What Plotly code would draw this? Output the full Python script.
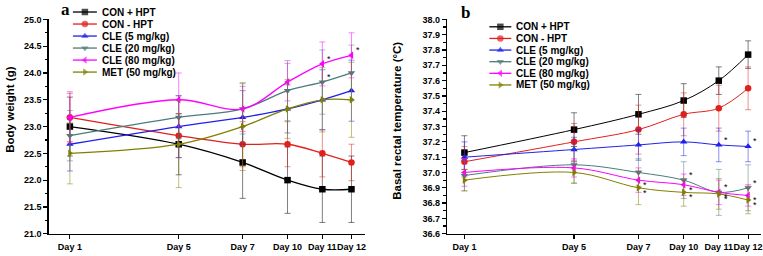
import plotly.graph_objects as go

W, H = 763, 256

# ---------------- data ----------------
days = ["Day 1", "Day 5", "Day 7", "Day 10", "Day 11", "Day 12"]
day_pos = [1, 5, 7.35, 9.0, 10.28, 11.35]   # uneven category positions on the original axis

series = ["CON + HPT", "CON - HPT", "CLE (5 mg/kg)", "CLE (20 mg/kg)", "CLE (80 mg/kg)", "MET (50 mg/kg)"]
colors = ["#000000", "#e0201c", "#2020ee", "#4a7c7c", "#ff00ff", "#808000"]
symbols = ["square", "circle", "triangle-up", "triangle-down", "triangle-left", "triangle-right"]

# Panel a: body weight (g)
bw_con_hpt = [23.00, 22.67, 22.33, 22.00, 21.83, 21.83]
bw_con_nohpt = [23.17, 22.83, 22.67, 22.67, 22.50, 22.33]
bw_cle5 = [22.67, 23.00, 23.17, 23.33, 23.50, 23.67]
bw_cle20 = [22.83, 23.17, 23.33, 23.67, 23.83, 24.00]
bw_cle80 = [23.17, 23.50, 23.33, 23.83, 24.17, 24.33]
bw_met = [22.50, 22.67, 23.00, 23.33, 23.50, 23.50]

bw_err_con_hpt = [0.55, 0.57, 0.67, 0.62, 0.62, 0.62]
bw_err_con_nohpt = [0.45, 0.41, 0.42, 0.42, 0.44, 0.34]
bw_err_cle5 = [0.50, 0.58, 0.50, 0.45, 0.56, 0.57]
bw_err_cle20 = [0.47, 0.40, 0.47, 0.56, 0.60, 0.52]
bw_err_cle80 = [0.48, 0.50, 0.42, 0.35, 0.41, 0.42]
bw_err_met = [0.57, 0.81, 0.82, 0.55, 0.60, 0.70]

# Panel b: basal rectal temperature (°C)
tp_con_hpt = [37.13, 37.28, 37.38, 37.47, 37.60, 37.77]
tp_con_nohpt = [37.07, 37.20, 37.28, 37.38, 37.42, 37.55]
tp_cle5 = [37.10, 37.15, 37.18, 37.20, 37.18, 37.17]
tp_cle20 = [36.98, 37.05, 37.00, 36.95, 36.87, 36.90]
tp_cle80 = [37.00, 37.03, 36.95, 36.92, 36.87, 36.85]
tp_met = [36.95, 37.00, 36.90, 36.87, 36.86, 36.82]

tp_err_con_hpt = [0.11, 0.11, 0.13, 0.11, 0.09, 0.09]
tp_err_con_nohpt = [0.10, 0.12, 0.16, 0.14, 0.15, 0.14]
tp_err_cle5 = [0.10, 0.08, 0.10, 0.09, 0.11, 0.10]
tp_err_cle20 = [0.10, 0.12, 0.09, 0.12, 0.15, 0.15]
tp_err_cle80 = [0.09, 0.06, 0.08, 0.07, 0.08, 0.07]
tp_err_met = [0.07, 0.07, 0.11, 0.09, 0.10, 0.09]

# significance marks: (series index, day index, direction +1 above / -1 below)
sig_a = [(4, 4, 1), (3, 4, 1), (4, 5, 1)]
sig_b = [(4, 2, -1), (5, 2, -1),
         (3, 3, 1), (4, 3, -1), (5, 3, -1),
         (2, 4, 1), (3, 4, 1), (4, 4, -1), (5, 4, -1),
         (2, 5, 1), (3, 5, 1), (4, 5, -1), (5, 5, -1)]

bw_vals = [bw_con_hpt, bw_con_nohpt, bw_cle5, bw_cle20, bw_cle80, bw_met]
bw_errs = [bw_err_con_hpt, bw_err_con_nohpt, bw_err_cle5, bw_err_cle20, bw_err_cle80, bw_err_met]
tp_vals = [tp_con_hpt, tp_con_nohpt, tp_cle5, tp_cle20, tp_cle80, tp_met]
tp_errs = [tp_err_con_hpt, tp_err_con_nohpt, tp_err_cle5, tp_err_cle20, tp_err_cle80, tp_err_met]

# ---------------- helpers ----------------
def rgba(hex_color, a):
    h = hex_color.lstrip("#")
    r, g, b = int(h[0:2], 16), int(h[2:4], 16), int(h[4:6], 16)
    return f"rgba({r},{g},{b},{a})"

FONT = "Arial, Liberation Sans, sans-serif"

fig = go.Figure()

def add_panel(vals, errs, xa, ya, lw):
    for i, name in enumerate(series):
        fig.add_trace(go.Scatter(
            x=day_pos, y=vals[i], name=name, xaxis=xa, yaxis=ya,
            mode="lines+markers",
            line=dict(color=colors[i], width=lw, shape="spline", smoothing=1.0),
            marker=dict(symbol=symbols[i], size=6.5, color=colors[i],
                        line=dict(width=0)),
            error_y=dict(type="data", array=errs[i], visible=True,
                         color=rgba(colors[i], 0.5), thickness=1, width=3),
            showlegend=False, cliponaxis=False,
        ))

add_panel(bw_vals, bw_errs, "x", "y", 1.3)
add_panel(tp_vals, tp_errs, "x2", "y2", 1.0)

annotations = []

def add_sig(sig, vals, xref, yref):
    for (si, di, d) in sig:
        annotations.append(dict(
            x=day_pos[di], y=vals[si][di], xref=xref, yref=yref,
            text="*", showarrow=False, xshift=7, yshift=5 * d,
            font=dict(family=FONT, size=9, color="black")))

add_sig(sig_a, bw_vals, "x", "y")
add_sig(sig_b, tp_vals, "x2", "y2")

# manual legends (compact rows) drawn on a full-figure helper axis in pixel units
def add_legend(x0, y0, dy, w):
    for i, name in enumerate(series):
        yy = y0 + i * dy
        fig.add_trace(go.Scatter(
            x=[x0, x0 + w / 2, x0 + w], y=[yy, yy, yy], xaxis="x3", yaxis="y3",
            mode="lines+markers",
            line=dict(color=colors[i], width=1.3),
            marker=dict(symbol=symbols[i], size=[0, 6.5, 0], color=colors[i], line=dict(width=0)),
            showlegend=False, hoverinfo="skip", cliponaxis=False))
        annotations.append(dict(
            x=x0 + w + 3, y=yy, xref="x3", yref="y3", text=name, showarrow=False,
            xanchor="left", yanchor="middle",
            font=dict(family=FONT, size=10, color="black", weight="bold")))

add_legend(73, 7.3, 12.5, 24)
add_legend(490, 22.7, 12.1, 22)

# axis titles and panel letters
annotations.append(dict(x=10, y=109, xref="x3", yref="y3", text="Body weight (g)",
                        textangle=-90, showarrow=False, xanchor="center", yanchor="middle",
                        font=dict(family=FONT, size=11.5, color="black", weight="bold")))
annotations.append(dict(x=398, y=120, xref="x3", yref="y3", text="Basal rectal temperature (°C)",
                        textangle=-90, showarrow=False, xanchor="center", yanchor="middle",
                        font=dict(family=FONT, size=11.5, color="black", weight="bold")))
annotations.append(dict(x=66, y=5, xref="x3", yref="y3", text="a", showarrow=False,
                        xanchor="center", yanchor="middle",
                        font=dict(family="Liberation Serif, Times New Roman, serif", size=17,
                                  color="black", weight="bold")))
annotations.append(dict(x=466, y=8, xref="x3", yref="y3", text="b", showarrow=False,
                        xanchor="center", yanchor="middle",
                        font=dict(family="Liberation Serif, Times New Roman, serif", size=17,
                                  color="black", weight="bold")))

tickfont = dict(family=FONT, size=9, color="black", weight="bold")
ydom = [1 - 238 / H, 1 - 15 / H]

xcommon = dict(tickvals=day_pos, ticktext=days, tickangle=0, showline=True, linecolor="black",
               linewidth=1.5, ticks="outside", ticklen=4, tickwidth=1.2, tickcolor="black",
               tickfont=tickfont, showgrid=False, zeroline=False, fixedrange=True)
ycommon = dict(showline=True, linecolor="black", linewidth=1.5, ticks="outside", ticklen=4,
               tickwidth=1.2, tickcolor="black", tickfont=tickfont, showgrid=False,
               zeroline=False, tickformat=".1f", domain=ydom, fixedrange=True)

fig.update_layout(
    width=W, height=H,
    margin=dict(l=0, r=0, t=0, b=0),
    paper_bgcolor="white", plot_bgcolor="rgba(0,0,0,0)",
    font=dict(family=FONT, color="black"),
    showlegend=False, hovermode=False,
    xaxis=dict(domain=[49 / W, 365 / W], range=[0.23, 11.83], anchor="y", **xcommon),
    yaxis=dict(range=[21, 25], dtick=0.5, anchor="x",
               minor=dict(ticks="outside", ticklen=2.5, dtick=0.25, tickcolor="black", showgrid=False),
               **ycommon),
    xaxis2=dict(domain=[448 / W, 762 / W], range=[0.38, 11.82], anchor="y2", **xcommon),
    yaxis2=dict(range=[36.6, 38.0], dtick=0.1, anchor="x2",
                minor=dict(ticks="outside", ticklen=2.5, dtick=0.05, tickcolor="black", showgrid=False),
                **ycommon),
    xaxis3=dict(domain=[0, 1], range=[0, W], visible=False, anchor="y3", fixedrange=True),
    yaxis3=dict(domain=[0, 1], range=[H, 0], visible=False, anchor="x3", fixedrange=True),
    annotations=annotations,
)

fig.write_html("out.html", config={"displayModeBar": False, "staticPlot": True},
               post_script="document.body.style.margin='0';document.body.style.overflow='hidden';")
